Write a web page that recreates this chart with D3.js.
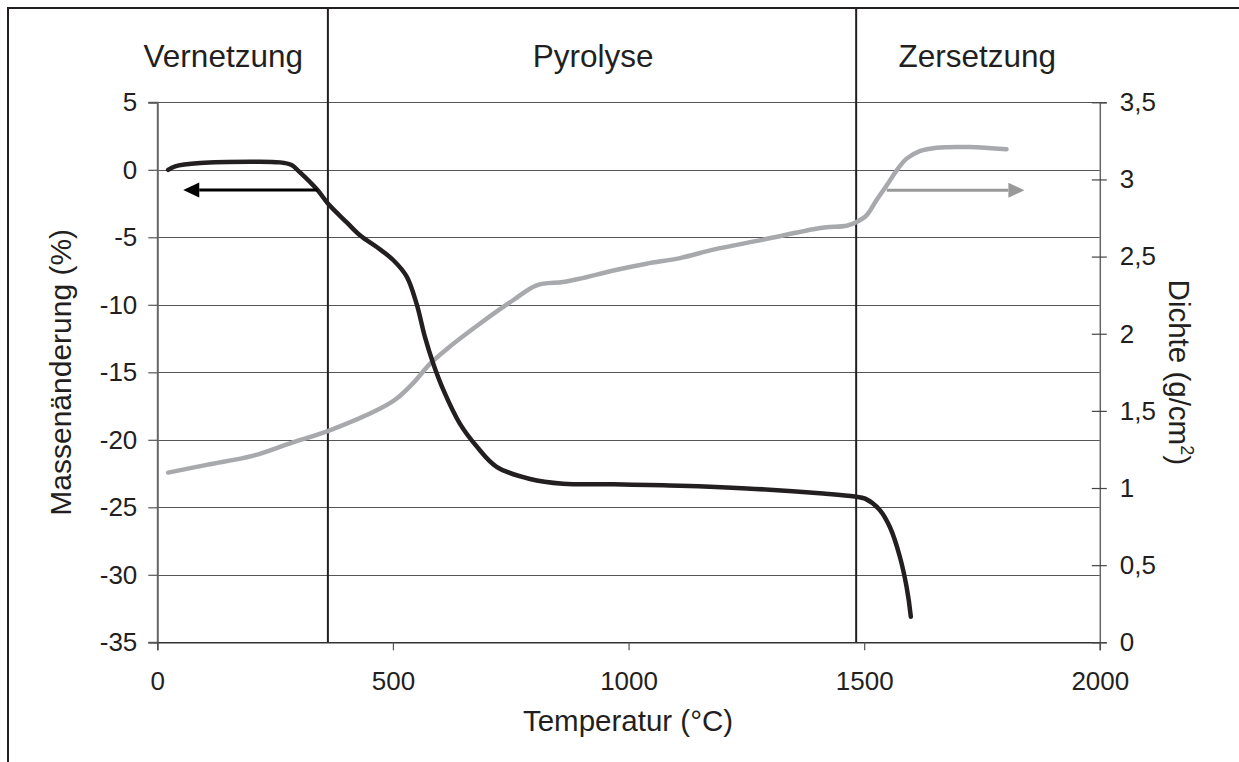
<!DOCTYPE html>
<html>
<head>
<meta charset="utf-8">
<script src="https://cdn.jsdelivr.net/npm/d3@7"></script>
<style>
  html, body { margin: 0; padding: 0; background: #fff; overflow: hidden; }
  svg { display: block; font-family: "Liberation Sans", Arial, sans-serif; }
</style>
</head>
<body>
<svg id="chart" width="1239" height="762"></svg>
<script>
// Temperature (°C) and mass change (%) of the polymer during heating
const massTemp = [23, 38, 91, 197, 260, 285, 300, 340, 362, 402, 430, 465, 501, 529, 550, 568, 586, 607, 642, 678, 720, 791, 861, 968, 1109, 1251, 1413, 1480, 1502, 1533, 1555, 1576, 1590, 1599];
const massChange = [0.0, 0.26, 0.5, 0.6, 0.55, 0.35, -0.1, -1.5, -2.5, -3.9, -4.85, -5.7, -6.7, -7.9, -9.9, -12.4, -14.4, -16.3, -18.8, -20.5, -22.0, -22.9, -23.25, -23.3, -23.4, -23.6, -23.98, -24.2, -24.36, -25.2, -26.5, -28.7, -30.9, -33.1];

// Temperature (°C) and density (g/cm²)
const densTemp = [23, 105, 204, 282, 366, 473, 508, 543, 579, 614, 685, 755, 805, 861, 897, 968, 1038, 1109, 1180, 1286, 1392, 1420, 1463, 1484, 1505, 1526, 1548, 1569, 1590, 1618, 1654, 1724, 1802];
const density = [1.10, 1.15, 1.21, 1.29, 1.374, 1.515, 1.58, 1.68, 1.806, 1.90, 2.066, 2.217, 2.314, 2.335, 2.357, 2.41, 2.454, 2.49, 2.545, 2.61, 2.677, 2.69, 2.70, 2.724, 2.767, 2.865, 2.962, 3.059, 3.135, 3.184, 3.206, 3.21, 3.195];

// Phase boundaries (°C) and phase names
const phaseBounds = [362, 1483];
const phaseNames = ["Vernetzung", "Pyrolyse", "Zersetzung"];
const phaseCenters = [140, 925, 1740];

// Axis ticks
const xTicks = [0, 500, 1000, 1500, 2000];
const leftTicks = [-35, -30, -25, -20, -15, -10, -5, 0, 5];
const rightTicks = [0, 0.5, 1, 1.5, 2, 2.5, 3, 3.5];

// Direction arrows: [from temperature, to temperature, level on own axis]
const massArrow = [340, 55, -1.5];
const densArrow = [1548, 1840, 2.93];

const svg = d3.select("#chart");
const ink = "#231f20";
const font = "Liberation Sans, Arial, sans-serif";

const x = d3.scaleLinear().domain([0, 2000]).range([157.3, 1099.8]);
const yL = d3.scaleLinear().domain([-35, 5]).range([642.3, 102.3]);
const yR = d3.scaleLinear().domain([0, 3.5]).range([642.3, 102.3]);

// outer frame: top and left edges
svg.append("path").attr("d", "M8,762 L8,8 L1239,8")
  .attr("fill", "none").attr("stroke", ink).attr("stroke-width", 2);

// horizontal grid lines
svg.append("g").selectAll("line").data(leftTicks.filter(d => d !== -35)).join("line")
  .attr("x1", x(0)).attr("x2", x(2000))
  .attr("y1", d => Math.round(yL(d)) + 0.5).attr("y2", d => Math.round(yL(d)) + 0.5)
  .attr("stroke", "#555").attr("stroke-width", 1.2);

// phase boundaries
svg.append("g").selectAll("line").data(phaseBounds).join("line")
  .attr("x1", d => x(d)).attr("x2", d => x(d))
  .attr("y1", 8).attr("y2", yL(-35))
  .attr("stroke", ink).attr("stroke-width", 2);

// phase labels
svg.append("g").selectAll("text").data(phaseNames).join("text")
  .attr("x", (d, i) => x(phaseCenters[i])).attr("y", 67)
  .attr("text-anchor", "middle").attr("font-size", 31.5).attr("fill", ink)
  .text(d => d);

// left axis
const gL = svg.append("g").attr("transform", `translate(${x(0)},0)`)
  .call(d3.axisLeft(yL).tickValues(leftTicks).tickSize(9).tickPadding(11).tickFormat(d => String(d)));
gL.select(".domain").attr("stroke", "#666").attr("stroke-width", 2);
gL.selectAll(".tick line").attr("stroke", "#555").attr("stroke-width", 1.2);
gL.selectAll("text").attr("font-size", 26).attr("fill", ink).attr("font-family", font);

// bottom axis
const gB = svg.append("g").attr("transform", `translate(0,${yL(-35)})`)
  .call(d3.axisBottom(x).tickValues(xTicks).tickSize(8).tickPadding(21).tickFormat(d => String(d)));
gB.select(".domain").attr("stroke", "#333").attr("stroke-width", 1.5);
gB.selectAll(".tick line").attr("stroke", "#555").attr("stroke-width", 1.2);
gB.selectAll("text").attr("font-size", 26).attr("fill", ink).attr("font-family", font);

// right axis (ticks cross the axis line)
const gR = svg.append("g").attr("transform", `translate(${x(2000)},0)`)
  .call(d3.axisRight(yR).tickValues(rightTicks).tickSize(7).tickPadding(13).tickFormat(d => String(d).replace(".", ",")));
gR.select(".domain").attr("stroke", "#666").attr("stroke-width", 1.5);
gR.selectAll(".tick line").attr("x1", -8).attr("stroke", "#444").attr("stroke-width", 1.2);
gR.selectAll("text").attr("font-size", 26).attr("fill", ink).attr("font-family", font);

// axis titles
svg.append("text").attr("x", 628).attr("y", 731).attr("text-anchor", "middle")
  .attr("font-size", 29.5).attr("fill", ink).text("Temperatur (°C)");
svg.append("text").attr("transform", `translate(71,${yL(-15)}) rotate(-90)`)
  .attr("text-anchor", "middle").attr("font-size", 30).attr("fill", ink).text("Massenänderung (%)");
const rt = svg.append("text").attr("transform", `translate(1169,${yL(-15)}) rotate(90)`)
  .attr("text-anchor", "middle").attr("font-size", 29.5).attr("fill", ink);
rt.append("tspan").text("Dichte (g/cm");
rt.append("tspan").attr("font-size", 18).attr("dy", -12).text("2");
rt.append("tspan").attr("dy", 12).text(")");

// curves
const curve = d3.curveCatmullRom.alpha(0.5);
const massLine = d3.line().x(d => x(d[0])).y(d => yL(d[1])).curve(curve);
const densLine = d3.line().x(d => x(d[0])).y(d => yR(d[1])).curve(curve);

svg.append("path").datum(densTemp.map((t, i) => [t, density[i]]))
  .attr("d", densLine).attr("fill", "none").attr("stroke", "#a7a9ac")
  .attr("stroke-width", 4.5).attr("stroke-linecap", "round").attr("stroke-linejoin", "round");

svg.append("path").datum(massTemp.map((t, i) => [t, massChange[i]]))
  .attr("d", massLine).attr("fill", "none").attr("stroke", ink)
  .attr("stroke-width", 4.5).attr("stroke-linecap", "round").attr("stroke-linejoin", "round");

// arrows pointing to the matching axis
function arrow(x0, x1, y, color) {
  const dir = Math.sign(x1 - x0);
  const head = 16;
  svg.append("line").attr("x1", x0).attr("x2", x1 - dir * head).attr("y1", y).attr("y2", y)
    .attr("stroke", color).attr("stroke-width", 3);
  svg.append("path")
    .attr("d", `M${x1},${y} L${x1 - dir * head},${y - 7.5} L${x1 - dir * head},${y + 7.5} Z`)
    .attr("fill", color);
}
arrow(x(massArrow[0]), x(massArrow[1]), yL(massArrow[2]), "#000");
arrow(x(densArrow[0]), x(densArrow[1]), yR(densArrow[2]), "#999");
</script>
</body>
</html>
